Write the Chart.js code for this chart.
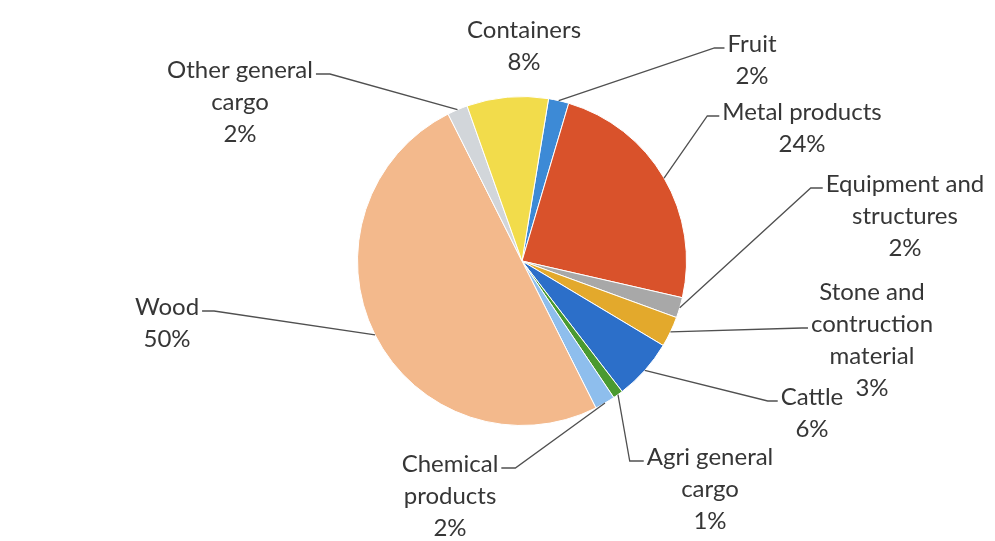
<!DOCTYPE html>
<html>
<head>
<meta charset="utf-8">
<script src="https://cdn.jsdelivr.net/npm/chart.js@4.4.0/dist/chart.umd.min.js"></script>
<style>
  html, body { margin: 0; padding: 0; background: #fff; }
</style>
</head>
<body>
<canvas id="cargoChart" width="995" height="541"></canvas>
<script>
var categories = ['Fruit', 'Metal products', 'Equipment and structures', 'Stone and contruction material',
  'Cattle', 'Agri general cargo', 'Chemical products', 'Wood', 'Other general cargo', 'Containers'];
var shares = [2, 24, 2, 3, 6, 1, 2, 50, 2, 8];
var sliceColors = ['#3d8ad6', '#d9522b', '#a8a8a8', '#e3a92c', '#2c6fc9',
  '#4a9a30', '#8ebeed', '#f3b98c', '#d2d6da', '#f2dc4b'];

// label placement: centre x, baseline of first line, wrap width, side the leader joins, which line, elbow length
var labelLayout = [
  { x: 752, y: 52,  wrap: 200, side: 'left',  line: 0, tail: 10 },
  { x: 802, y: 120, wrap: 300, side: 'left',  line: 0, tail: 12 },
  { x: 905, y: 192, wrap: 185, side: 'left',  line: 0, tail: 12 },
  { x: 872, y: 300, wrap: 145, side: 'left',  line: 1, tail: 6 },
  { x: 812, y: 405, wrap: 200, side: 'left',  line: 0, tail: 10 },
  { x: 710, y: 465, wrap: 155, side: 'left',  line: 0, tail: 14 },
  { x: 450, y: 472, wrap: 125, side: 'right', line: 0, tail: 14 },
  { x: 167, y: 315, wrap: 200, side: 'right', line: 0, tail: 12 },
  { x: 240, y: 78,  wrap: 180, side: 'right', line: 0, tail: 14 },
  { x: 524, y: 38,  wrap: 200, side: null,    line: 0, tail: 0 }
];
var lineGap = 32;

function wrapText(ctx, text, maxWidth) {
  var words = text.split(' '), lines = [], cur = '';
  words.forEach(function (w) {
    var test = cur ? cur + ' ' + w : w;
    if (cur && ctx.measureText(test).width > maxWidth) {
      lines.push(cur);
      cur = w;
    } else {
      cur = test;
    }
  });
  lines.push(cur);
  return lines;
}

// category + percentage labels with leader lines
var pieLabels = {
  id: 'pieLabels',
  afterDatasetsDraw: function (chart) {
    var ctx = chart.ctx;
    var meta = chart.getDatasetMeta(0);
    ctx.save();
    ctx.font = '24px Lato';
    ctx.textAlign = 'center';
    ctx.textBaseline = 'alphabetic';
    meta.data.forEach(function (arc, i) {
      var p = arc.getProps(['x', 'y', 'startAngle', 'endAngle', 'outerRadius'], true);
      var mid = (p.startAngle + p.endAngle) / 2;
      var ax = p.x + Math.cos(mid) * p.outerRadius;
      var ay = p.y + Math.sin(mid) * p.outerRadius;
      var lay = labelLayout[i];
      var lines = wrapText(ctx, categories[i], lay.wrap);
      lines.push(shares[i] + '%');

      ctx.fillStyle = '#363636';
      lines.forEach(function (t, k) {
        ctx.fillText(t, lay.x, lay.y + k * lineGap);
      });

      if (lay.side) {
        var w = ctx.measureText(lines[lay.line]).width;
        var ly = lay.y + lay.line * lineGap - 4;
        var ex = lay.side === 'left' ? lay.x - w / 2 - 3 : lay.x + w / 2 + 3;
        var kx = lay.side === 'left' ? ex - lay.tail : ex + lay.tail;
        ctx.strokeStyle = '#505050';
        ctx.lineWidth = 1.3;
        ctx.beginPath();
        ctx.moveTo(ax, ay);
        ctx.lineTo(kx, ly);
        ctx.lineTo(ex, ly);
        ctx.stroke();
      }
    });
    ctx.restore();
  }
};

new Chart(document.getElementById('cargoChart'), {
  type: 'pie',
  data: {
    labels: categories,
    datasets: [{
      data: shares,
      backgroundColor: sliceColors,
      borderColor: '#ffffff',
      borderWidth: 1
    }]
  },
  options: {
    responsive: false,
    animation: false,
    devicePixelRatio: 1,
    rotation: 9.3,
    layout: { padding: { left: 357, right: 308, top: 96, bottom: 115 } },
    plugins: {
      legend: { display: false },
      tooltip: { enabled: false }
    }
  },
  plugins: [pieLabels]
});
</script>
</body>
</html>
